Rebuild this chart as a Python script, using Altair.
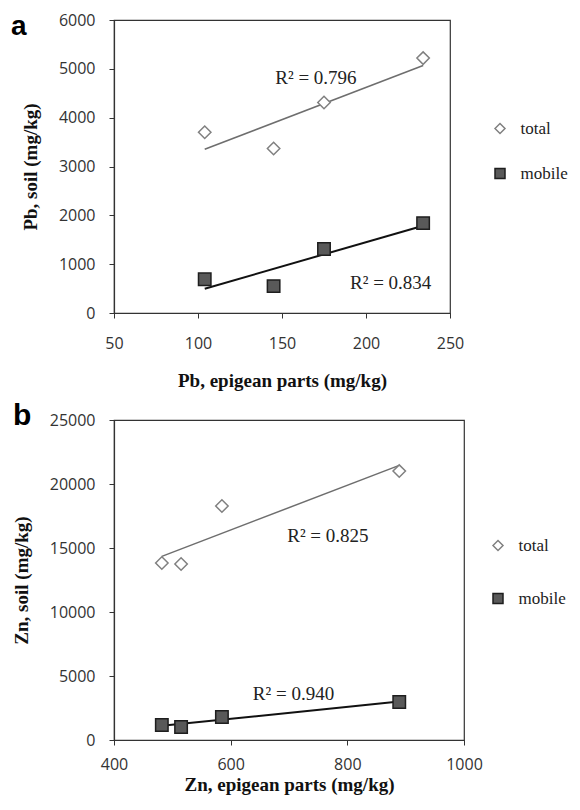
import altair as alt
import pandas as pd

# ---- data ----
series = ["total", "total", "total", "total", "mobile", "mobile", "mobile", "mobile"]

pb_x = [104, 145, 175, 234, 104, 145, 175, 234]
pb_y = [3700, 3370, 4310, 5220, 690, 550, 1310, 1840]

zn_x = [482, 515, 585, 889, 482, 515, 585, 889]
zn_y = [13830, 13750, 18280, 21010, 1170, 1020, 1800, 2970]

pb_r2_text = ["R\u00b2 = 0.796", "R\u00b2 = 0.834"]
pb_r2_x = [146, 190.5]
pb_r2_y = [4690, 490]

zn_r2_text = ["R\u00b2 = 0.825", "R\u00b2 = 0.940"]
zn_r2_x = [697, 638]
zn_r2_y = [15470, 3125]

pb_xticks = [50, 100, 150, 200, 250]
pb_yticks = [0, 1000, 2000, 3000, 4000, 5000, 6000]
zn_xticks = [400, 600, 800, 1000]
zn_yticks = [0, 5000, 10000, 15000, 20000, 25000]

series_domain = ["total", "mobile"]
fill_range = ["#ffffff", "#595959"]
stroke_range = ["#808080", "#1e1e1e"]
shape_range = ["diamond", "square"]

SERIF = "Liberation Serif"
SANS = "Open Sans"


def panel(xs, ys, r2_t, r2_x, r2_y, xdom, xvals, ydom, yvals, xtitle, ytitle,
          letter, letter_x, letter_y, letter_size, w, h, leg_x, leg_y, row_pad,
          x_lab_pad, x_title_pad, y_title_pad):
    df = pd.DataFrame({"x": xs, "y": ys, "series": series})
    r2df = pd.DataFrame({"x": r2_x, "y": r2_y, "t": r2_t})
    base = alt.Chart(df)
    X = alt.X("x:Q", scale=alt.Scale(domain=xdom, nice=False, zero=False),
              axis=alt.Axis(values=xvals, title=xtitle, format="d",
                            labelPadding=x_lab_pad, titlePadding=x_title_pad))
    Y = alt.Y("y:Q", scale=alt.Scale(domain=ydom, nice=False, zero=False),
              axis=alt.Axis(values=yvals, title=ytitle, format="d",
                            labelPadding=14, titlePadding=y_title_pad))
    leg = alt.Legend(title=None, orient="none", legendX=leg_x, legendY=leg_y,
                     rowPadding=row_pad, padding=0, labelOffset=12,
                     symbolSize=100, symbolStrokeWidth=1.5)
    pts = base.mark_point(filled=True, opacity=1, size=155, strokeWidth=1.5).encode(
        x=X, y=Y,
        shape=alt.Shape("series:N", scale=alt.Scale(domain=series_domain, range=shape_range), legend=leg),
        fill=alt.Fill("series:N", scale=alt.Scale(domain=series_domain, range=fill_range), legend=leg),
        stroke=alt.Stroke("series:N", scale=alt.Scale(domain=series_domain, range=stroke_range), legend=leg),
    )
    reg_total = base.transform_filter(alt.datum.series == "total").transform_regression(
        "x", "y").mark_line(color="#6e6e6e", strokeWidth=1.5).encode(x=X, y=Y)
    reg_mobile = base.transform_filter(alt.datum.series == "mobile").transform_regression(
        "x", "y").mark_line(color="#111111", strokeWidth=2).encode(x=X, y=Y)
    r2 = alt.Chart(r2df).mark_text(align="left", baseline="alphabetic", font=SERIF,
                                   fontSize=19, color="#222222").encode(x="x:Q", y="y:Q", text="t:N")
    lab = alt.Chart(pd.DataFrame({"t": [letter]})).mark_text(
        align="left", baseline="top", font="Liberation Sans", fontWeight="bold",
        fontSize=letter_size, color="#000000").encode(
        x=alt.value(letter_x), y=alt.value(letter_y), text="t:N")
    return alt.layer(reg_total, reg_mobile, pts, r2, lab).properties(width=w, height=h)


a = panel(pb_x, pb_y, pb_r2_text, pb_r2_x, pb_r2_y, [50, 250], pb_xticks, [0, 6000], pb_yticks,
          "Pb, epigean parts (mg/kg)", "Pb, soil (mg/kg)", "a", -103, -7, 28,
          336, 293, 377.5, 100, 27, 17, 20, 18)
b = panel(zn_x, zn_y, zn_r2_text, zn_r2_x, zn_r2_y, [400, 1000], zn_xticks, [0, 25000], zn_yticks,
          "Zn, epigean parts (mg/kg)", "Zn,  soil (mg/kg)", "b", -101, -19, 30,
          350, 320, 375.5, 117, 35, 11, 3, 18)

chart = alt.vconcat(a, b, spacing=107, bounds="flush").resolve_scale(
    x="independent", y="independent", fill="independent", stroke="independent", shape="independent"
).resolve_legend(fill="independent", stroke="independent", shape="independent").properties(
    padding={"left": 2, "top": 3, "right": 0, "bottom": 0}
).configure_axis(
    labelFont=SANS, labelFontSize=16, labelColor="#333333", labelFlush=False,
    titleFont=SERIF, titleFontSize=19, titleFontWeight="bold", titleColor="#111111",
    domainColor="#333333", tickColor="#333333", tickSize=5, grid=False, domainWidth=1.2,
).configure_view(
    stroke="#333333", strokeWidth=1.2
).configure_legend(labelFont=SERIF, labelFontSize=17, labelColor="#222222")

chart.save("out.html", embed_options={"renderer": "svg", "actions": False})
